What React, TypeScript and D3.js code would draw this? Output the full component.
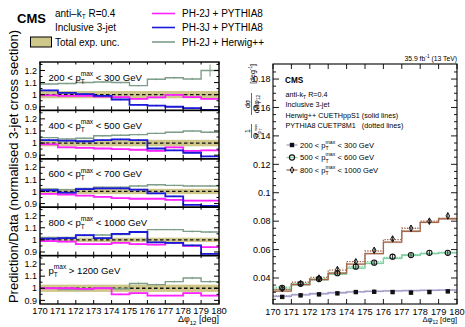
import React, { useEffect, useRef } from "react";
import * as d3 from "d3";

const FONT = "'Liberation Sans', Arial, Helvetica, sans-serif";

// ---------- data ----------
const binEdges = [170, 171, 172, 173, 174, 175, 176, 177, 178, 179, 180];
const xTickValues = [170, 171, 172, 173, 174, 175, 176, 177, 178, 179, 180];

const panelPre = ["200 < ", "400 < ", "600 < ", "800 < ", ""];
const panelPost = [" < 300 GeV", " < 500 GeV", " < 700 GeV", " < 1000 GeV", " > 1200 GeV"];

// PH-2J + Herwig++ (ratio)
const ph2jHerwig = [
  [1.088, 1.092, 1.1, 1.105, 1.1, 1.075, 1.128, 1.14, 1.13, 1.2],
  [1.045, 1.035, 1.04, 1.06, 1.065, 1.07, 1.08, 1.09, 1.1, 1.09],
  [1.02, 1.015, 1.025, 1.035, 1.035, 1.045, 1.055, 1.05, 1.045, 1.045],
  [1.02, 1.02, 1.035, 1.04, 1.045, 1.065, 1.085, 1.085, 1.07, 1.065],
  [1.0, 0.99, 0.99, 1.005, 0.995, 1.04, 1.03, 1.055, 1.085, 1.055],
];
const ph2jHerwigErr = [
  [0.006, 0.006, 0.006, 0.006, 0.006, 0.006, 0.008, 0.008, 0.01, 0.05],
  [0.006, 0.006, 0.006, 0.006, 0.006, 0.006, 0.006, 0.006, 0.008, 0.008],
  [0.006, 0.006, 0.006, 0.006, 0.006, 0.006, 0.006, 0.006, 0.008, 0.008],
  [0.006, 0.006, 0.006, 0.006, 0.006, 0.006, 0.006, 0.006, 0.008, 0.008],
  [0.008, 0.008, 0.008, 0.008, 0.008, 0.008, 0.008, 0.008, 0.01, 0.01],
];
// PH-3J + PYTHIA8 (ratio); last panel has none
const ph3jPythia: (number[] | null)[] = [
  [1.035, 1.015, 1.005, 0.99, 0.96, 0.915, 0.91, 0.9, 0.888, 0.874],
  [1.025, 1.02, 1.015, 1.025, 1.03, 1.025, 0.955, 0.94, 0.92, 0.89],
  [1.01, 0.99, 1.02, 1.025, 1.025, 1.015, 0.985, 0.96, 0.89, 0.88],
  [1.01, 1.015, 1.04, 1.015, 1.05, 1.065, 0.98, 0.975, 0.955, 0.885],
  null,
];
// PH-2J + PYTHIA8 (ratio)
const ph2jPythia = [
  [0.995, 0.99, 0.99, 0.985, 0.98, 0.965, 0.978, 0.998, 0.98, 0.965],
  [0.99, 0.965, 0.96, 0.955, 0.95, 0.945, 0.935, 0.965, 0.935, 0.94],
  [0.98, 0.975, 0.965, 0.955, 0.945, 0.94, 0.94, 0.93, 0.925, 0.925],
  [0.99, 0.985, 0.965, 0.965, 0.975, 0.965, 0.96, 0.975, 0.95, 0.94],
  [1.0, 1.0, 0.995, 1.0, 0.95, 0.96, 0.94, 0.94, 0.96, 0.94],
];
// total experimental uncertainty (half width)
const expUnc = [0.03, 0.027, 0.022, 0.018, 0.03];

const leftYTicks = [0.9, 1.0, 1.1, 1.2];
const leftYMinor = [0.95, 1.05, 1.15, 1.25];

// Right panel: normalised cross sections
const seriesLabelsPre = ["200 < ", "500 < ", "800 < "];
const seriesLabelsPost = [" < 300 GeV", " < 600 GeV", " < 1000 GeV"];
const dataPts = [
  [0.0267, 0.0278, 0.0285, 0.0292, 0.0301, 0.0303, 0.0301, 0.0297, 0.0301, 0.0306],
  [0.0331, 0.0359, 0.0393, 0.0434, 0.048, 0.0508, 0.055, 0.0561, 0.0577, 0.0577],
  [0.0325, 0.0362, 0.04, 0.046, 0.0515, 0.0595, 0.0675, 0.075, 0.08, 0.0837],
];
const herwigNorm = [
  [0.027, 0.0281, 0.0289, 0.0296, 0.0302, 0.0306, 0.0309, 0.0311, 0.0313, 0.0315],
  [0.032, 0.0354, 0.0389, 0.0428, 0.0469, 0.0503, 0.0538, 0.056, 0.0572, 0.0577],
  [0.0308, 0.0354, 0.0389, 0.0434, 0.0497, 0.0572, 0.0652, 0.0729, 0.0792, 0.0817],
];
const pythiaNorm = [
  [0.0275, 0.0285, 0.0292, 0.0298, 0.0304, 0.0308, 0.031, 0.0312, 0.0314, 0.0316],
  [0.0335, 0.036, 0.0395, 0.0435, 0.048, 0.0515, 0.0545, 0.0565, 0.0575, 0.058],
  [0.032, 0.037, 0.0405, 0.0455, 0.0515, 0.059, 0.067, 0.075, 0.08, 0.082],
];
const rightYTicks = [0.04, 0.06, 0.08, 0.1, 0.12, 0.14, 0.16, 0.18];
const rightYTickLabels = ["0.04", "0.06", "0.08", "0.1", "0.12", "0.14", "0.16", "0.18"];

const seriesColors = ["#a29ec9", "#7fd0a2", "#a3684c"];
const markerTypes = ["square", "circle", "diamond"];

type Sel = d3.Selection<any, any, any, any>;

function ptLabel(g: Sel, x: number, y: number, fs: number, pre: string, post: string, anchor = "start") {
  const t = g
    .append("text")
    .attr("x", x)
    .attr("y", y)
    .attr("font-size", fs)
    .attr("font-family", FONT)
    .attr("text-anchor", anchor)
    .style("white-space", "pre");
  t.append("tspan").text(pre + "p");
  const sup = t.append("tspan").attr("font-size", fs * 0.68).attr("dy", -fs * 0.48).text("max");
  const wSup = (sup.node() as SVGTextContentElement).getComputedTextLength();
  const sub = t
    .append("tspan")
    .attr("font-size", fs * 0.68)
    .attr("dx", -wSup)
    .attr("dy", fs * 0.48 + fs * 0.32)
    .text("T");
  const wSub = (sub.node() as SVGTextContentElement).getComputedTextLength();
  t.append("tspan").attr("dx", wSup - wSub).attr("dy", -fs * 0.32).text(post);
  return t;
}

function stepPoints(vals: number[]) {
  const pts: [number, number][] = [];
  vals.forEach((v, i) => {
    pts.push([binEdges[i], v]);
    pts.push([binEdges[i + 1], v]);
  });
  return pts;
}

export default function App() {
  const ref = useRef<SVGSVGElement>(null);
  useEffect(() => {
    const svg = d3.select(ref.current);
    svg.selectAll("*").remove();
    const defs = svg.append("defs");

    // ---------------- LEFT ----------------
    const L = { x0: 40, x1: 219, top: 62, ph: 48.4 };
    const x = d3.scaleLinear().domain([170, 180]).range([L.x0, L.x1]);
    const colHw = "#7f9e8a";
    const col3J = "#1a1ad8";
    const col2J = "#ff22ff";

    for (let p = 0; p < 5; p++) {
      const top = L.top + p * L.ph;
      const bottom = top + L.ph;
      const y = d3.scaleLinear().domain([0.87, 1.27]).range([bottom, top]);
      const clipId = "clipL" + p;
      defs
        .append("clipPath")
        .attr("id", clipId)
        .append("rect")
        .attr("x", L.x0)
        .attr("y", top)
        .attr("width", L.x1 - L.x0)
        .attr("height", L.ph);
      const g = svg.append("g").attr("clip-path", `url(#${clipId})`);
      // uncertainty band
      g.append("rect")
        .attr("x", x(170))
        .attr("width", x(180) - x(170))
        .attr("y", y(1 + expUnc[p]))
        .attr("height", y(1 - expUnc[p]) - y(1 + expUnc[p]))
        .attr("fill", "#cfc88a");
      g.append("line")
        .attr("x1", x(170))
        .attr("x2", x(180))
        .attr("y1", y(1))
        .attr("y2", y(1))
        .attr("stroke", "#111")
        .attr("stroke-width", 1.3)
        .attr("stroke-dasharray", "3.5,2.5");

      const line = d3
        .line<[number, number]>()
        .x((d) => x(d[0]))
        .y((d) => y(d[1]));
      const drawSeries = (vals: number[], col: string, w: number, errs: number[] | null, bandW: number) => {
        // light MC band
        vals.forEach((v, i) => {
          g.append("rect")
            .attr("x", x(binEdges[i]))
            .attr("width", x(binEdges[i + 1]) - x(binEdges[i]))
            .attr("y", y(v + bandW))
            .attr("height", y(v - bandW) - y(v + bandW))
            .attr("fill", col)
            .attr("opacity", 0.22);
        });
        g.append("path")
          .attr("d", line(stepPoints(vals)))
          .attr("fill", "none")
          .attr("stroke", col)
          .attr("stroke-width", w);
        vals.forEach((v, i) => {
          const e = errs ? errs[i] : 0.006;
          const cx = x((binEdges[i] + binEdges[i + 1]) / 2);
          g.append("line")
            .attr("x1", cx)
            .attr("x2", cx)
            .attr("y1", y(v - e))
            .attr("y2", y(v + e))
            .attr("stroke", col)
            .attr("stroke-width", 1);
        });
      };
      drawSeries(ph2jHerwig[p], colHw, 1.4, ph2jHerwigErr[p], 0.004);
      drawSeries(ph2jPythia[p], col2J, 1.8, null, 0.006);
      const s3 = ph3jPythia[p];
      if (s3) drawSeries(s3, col3J, 1.8, null, 0.006);

      // frame
      svg
        .append("rect")
        .attr("x", L.x0)
        .attr("y", top)
        .attr("width", L.x1 - L.x0)
        .attr("height", L.ph)
        .attr("fill", "none")
        .attr("stroke", "#000")
        .attr("stroke-width", 1.4);
      // x ticks
      xTickValues.forEach((t) => {
        svg
          .append("line")
          .attr("x1", x(t))
          .attr("x2", x(t))
          .attr("y1", bottom)
          .attr("y2", bottom - 4)
          .attr("stroke", "#000")
          .attr("stroke-width", 1);
        svg
          .append("line")
          .attr("x1", x(t))
          .attr("x2", x(t))
          .attr("y1", top)
          .attr("y2", top + 2.5)
          .attr("stroke", "#000")
          .attr("stroke-width", 1);
      });
      // y ticks
      leftYTicks.forEach((t) => {
        [
          [L.x0, 5],
          [L.x1, -5],
        ].forEach(([xx, len]) => {
          svg
            .append("line")
            .attr("x1", xx)
            .attr("x2", xx + len)
            .attr("y1", y(t))
            .attr("y2", y(t))
            .attr("stroke", "#000")
            .attr("stroke-width", 1);
        });
        svg
          .append("text")
          .attr("x", L.x0 - 3)
          .attr("y", y(t) + 3.2)
          .attr("text-anchor", "end")
          .attr("font-size", 9)
          .attr("font-family", FONT)
          .text(t === 1 ? "1" : d3.format(".1f")(t));
      });
      leftYMinor.forEach((t) => {
        if (y(t) < top + 1) return;
        [
          [L.x0, 2.5],
          [L.x1, -2.5],
        ].forEach(([xx, len]) => {
          svg
            .append("line")
            .attr("x1", xx)
            .attr("x2", xx + len)
            .attr("y1", y(t))
            .attr("y2", y(t))
            .attr("stroke", "#000")
            .attr("stroke-width", 1);
        });
      });
      ptLabel(svg, 48.5, top + 18.5, 9.6, panelPre[p], panelPost[p]);
    }
    // x tick labels
    const lBottom = L.top + 5 * L.ph;
    xTickValues.forEach((t) => {
      svg
        .append("text")
        .attr("x", x(t))
        .attr("y", lBottom + 9.5)
        .attr("text-anchor", "middle")
        .attr("font-size", 9.4)
        .attr("font-family", FONT)
        .text(String(t));
    });
    // x title
    {
      const t = svg
        .append("text")
        .attr("x", L.x1)
        .attr("y", 322)
        .attr("text-anchor", "end")
        .attr("font-size", 9)
        .attr("font-family", FONT)
        .style("white-space", "pre");
      t.append("tspan").text("Δφ");
      t.append("tspan").attr("font-size", 6).attr("dy", 2.5).text("12");
      t.append("tspan").attr("dy", -2.5).text(" [deg]");
    }
    // y title
    svg
      .append("text")
      .attr("transform", "translate(17.5,166.5) rotate(-90)")
      .attr("text-anchor", "middle")
      .attr("font-size", 13)
      .attr("font-family", FONT)
      .text("Prediction/Data (normalised 3-jet cross section)");

    // top legend
    svg
      .append("text")
      .attr("x", 17)
      .attr("y", 23)
      .attr("font-size", 13)
      .attr("font-weight", "bold")
      .attr("font-family", FONT)
      .text("CMS");
    {
      const t = svg
        .append("text")
        .attr("x", 55)
        .attr("y", 16.5)
        .attr("font-size", 10)
        .attr("font-family", FONT)
        .style("white-space", "pre");
      t.append("tspan").text("anti–k");
      t.append("tspan").attr("font-size", 6.5).attr("dy", 2.5).text("T");
      t.append("tspan").attr("dy", -2.5).text(" R=0.4");
    }
    svg
      .append("text")
      .attr("x", 55)
      .attr("y", 30.5)
      .attr("font-size", 10)
      .attr("font-family", FONT)
      .text("Inclusive 3-jet");
    svg
      .append("rect")
      .attr("x", 30.5)
      .attr("y", 37)
      .attr("width", 21)
      .attr("height", 10)
      .attr("fill", "#cfc88a")
      .attr("stroke", "#000")
      .attr("stroke-width", 1);
    svg
      .append("text")
      .attr("x", 55)
      .attr("y", 45.5)
      .attr("font-size", 10)
      .attr("font-family", FONT)
      .text("Total exp. unc.");
    const legLines: [string, string, number][] = [
      [col2J, "PH-2J + PYTHIA8", 13.5],
      [col3J, "PH-3J + PYTHIA8", 27.5],
      [colHw, "PH-2J + Herwig++", 42],
    ];
    legLines.forEach(([c, lab, yy]) => {
      svg
        .append("line")
        .attr("x1", 152)
        .attr("x2", 175)
        .attr("y1", yy)
        .attr("y2", yy)
        .attr("stroke", c)
        .attr("stroke-width", 1.6);
      svg
        .append("text")
        .attr("x", 182)
        .attr("y", yy + 3.5)
        .attr("font-size", 10)
        .attr("font-family", FONT)
        .text(lab);
    });

    // ---------------- RIGHT ----------------
    const R = { x0: 273, x1: 457, y0: 64, y1: 304 };
    const xr = d3.scaleLinear().domain([170, 180]).range([R.x0, R.x1]);
    const yr = d3.scaleLinear().domain([0.0217, 0.1906]).range([R.y1, R.y0]);
    defs
      .append("clipPath")
      .attr("id", "clipR")
      .append("rect")
      .attr("x", R.x0)
      .attr("y", R.y0)
      .attr("width", R.x1 - R.x0)
      .attr("height", R.y1 - R.y0);
    const gr = svg.append("g").attr("clip-path", "url(#clipR)");
    const liner = d3
      .line<[number, number]>()
      .x((d) => xr(d[0]))
      .y((d) => yr(d[1]));
    for (let s = 0; s < 3; s++) {
      const col = seriesColors[s];
      // band
      herwigNorm[s].forEach((v, i) => {
        gr.append("rect")
          .attr("x", xr(binEdges[i]))
          .attr("width", xr(binEdges[i + 1]) - xr(binEdges[i]))
          .attr("y", yr(v + 0.0008))
          .attr("height", yr(v - 0.0008) - yr(v + 0.0008))
          .attr("fill", col)
          .attr("opacity", 0.25);
      });
      gr.append("path")
        .attr("d", liner(stepPoints(herwigNorm[s])))
        .attr("fill", "none")
        .attr("stroke", col)
        .attr("stroke-width", 1.3);
      gr.append("path")
        .attr("d", liner(stepPoints(pythiaNorm[s])))
        .attr("fill", "none")
        .attr("stroke", col)
        .attr("stroke-width", 1.3)
        .attr("stroke-dasharray", "1.3,1.3");
    }
    const drawMarker = (g: Sel, type: string, cx: number, cy: number) => {
      if (type === "square") {
        g.append("rect")
          .attr("x", cx - 2.2)
          .attr("y", cy - 2.2)
          .attr("width", 4.4)
          .attr("height", 4.4)
          .attr("fill", "#111");
      } else if (type === "circle") {
        g.append("circle")
          .attr("cx", cx)
          .attr("cy", cy)
          .attr("r", 2.6)
          .attr("fill", "none")
          .attr("stroke", "#111")
          .attr("stroke-width", 1.1);
      } else {
        g.append("path")
          .attr("d", `M${cx},${cy - 3.2}L${cx + 1.8},${cy}L${cx},${cy + 3.2}L${cx - 1.8},${cy}Z`)
          .attr("fill", "none")
          .attr("stroke", "#111")
          .attr("stroke-width", 1);
      }
    };
    for (let s = 0; s < 3; s++) {
      dataPts[s].forEach((v, i) => {
        const cx = xr((binEdges[i] + binEdges[i + 1]) / 2);
        const e = 0.0008 + v * 0.02;
        gr.append("line")
          .attr("x1", cx)
          .attr("x2", cx)
          .attr("y1", yr(v - e))
          .attr("y2", yr(v + e))
          .attr("stroke", "#111")
          .attr("stroke-width", 0.9);
        drawMarker(gr, markerTypes[s], cx, yr(v));
      });
    }
    svg
      .append("rect")
      .attr("x", R.x0)
      .attr("y", R.y0)
      .attr("width", R.x1 - R.x0)
      .attr("height", R.y1 - R.y0)
      .attr("fill", "none")
      .attr("stroke", "#000")
      .attr("stroke-width", 1.1);
    xTickValues.forEach((t) => {
      [
        [R.y1, -5],
        [R.y0, 5],
      ].forEach(([yy, len]) => {
        svg
          .append("line")
          .attr("x1", xr(t))
          .attr("x2", xr(t))
          .attr("y1", yy)
          .attr("y2", yy + len)
          .attr("stroke", "#000")
          .attr("stroke-width", 0.9);
      });
      svg
        .append("text")
        .attr("x", xr(t))
        .attr("y", R.y1 + 10.5)
        .attr("text-anchor", "middle")
        .attr("font-size", 9.2)
        .attr("font-family", FONT)
        .text(String(t));
    });
    const yMinor = d3.range(0.025, 0.19, 0.005);
    yMinor.forEach((t) => {
      const major = rightYTicks.some((m) => Math.abs(m - t) < 1e-6);
      const len = major ? 6 : 3;
      [
        [R.x0, len],
        [R.x1, -len],
      ].forEach(([xx, l]) => {
        svg
          .append("line")
          .attr("x1", xx)
          .attr("x2", xx + l)
          .attr("y1", yr(t))
          .attr("y2", yr(t))
          .attr("stroke", "#000")
          .attr("stroke-width", 0.9);
      });
    });
    rightYTicks.forEach((t, i) => {
      svg
        .append("text")
        .attr("x", R.x0 - 2.5)
        .attr("y", yr(t) + 3.2)
        .attr("text-anchor", "end")
        .attr("font-size", 9)
        .attr("font-family", FONT)
        .text(rightYTickLabels[i]);
    });
    {
      const t = svg
        .append("text")
        .attr("x", R.x1)
        .attr("y", 322)
        .attr("text-anchor", "end")
        .attr("font-size", 7.6)
        .attr("font-family", FONT)
        .style("white-space", "pre");
      t.append("tspan").text("Δφ");
      t.append("tspan").attr("font-size", 5).attr("dy", 2).text("12");
      t.append("tspan").attr("dy", -2).text(" [deg]");
    }
    {
      const t = svg
        .append("text")
        .attr("x", R.x1)
        .attr("y", 60.5)
        .attr("text-anchor", "end")
        .attr("font-size", 6.8)
        .attr("font-family", FONT)
        .style("white-space", "pre");
      t.append("tspan").text("35.9 fb");
      t.append("tspan").attr("font-size", 4.8).attr("dy", -2.5).text("-1");
      t.append("tspan").attr("dy", 2.5).text(" (13 TeV)");
    }
    // right y title (rotated)
    {
      const g = svg.append("g").attr("transform", "translate(251.5,0) rotate(-90)");
      const fs = 7;
      const frac = (cx: number, num: (t: Sel) => void, den: (t: Sel) => void, w: number) => {
        const tn = g.append("text").attr("x", cx).attr("y", -1.8).attr("text-anchor", "middle").attr("font-size", fs).attr("font-family", FONT).style("white-space", "pre");
        num(tn);
        const td = g.append("text").attr("x", cx).attr("y", 7).attr("text-anchor", "middle").attr("font-size", fs).attr("font-family", FONT).style("white-space", "pre");
        den(td);
        g.append("line").attr("x1", cx - w / 2).attr("x2", cx + w / 2).attr("y1", 0).attr("y2", 0).attr("stroke", "#000").attr("stroke-width", 0.6);
      };
      frac(
        -131,
        (t) => t.append("tspan").text("1"),
        (t) => {
          t.append("tspan").text("σ");
          t.append("tspan").attr("font-size", 4.5).attr("dy", 2).text("p");
          t.append("tspan").attr("font-size", 3.5).attr("dy", -3.5).text("max");
          t.append("tspan").attr("font-size", 3.5).attr("dx", -6).attr("dy", 5).text("T");
        },
        14
      );
      frac(
        -104,
        (t) => t.append("tspan").text("dσ"),
        (t) => {
          t.append("tspan").text("dΔφ");
          t.append("tspan").attr("font-size", 4.8).attr("dy", 1.8).text("12");
        },
        22
      );
      const tt = g.append("text").attr("x", -64).attr("y", 3).attr("text-anchor", "end").attr("font-size", fs).attr("font-family", FONT).style("white-space", "pre");
      tt.append("tspan").text("[deg");
      tt.append("tspan").attr("font-size", 4.8).attr("dy", -3).text("-1");
      tt.append("tspan").attr("dy", 3).text("]");
    }
    // right inner text
    svg.append("text").attr("x", 285).attr("y", 83).attr("font-size", 8.2).attr("font-weight", "bold").attr("font-family", FONT).text("CMS");
    {
      const t = svg.append("text").attr("x", 285.5).attr("y", 97).attr("font-size", 7.2).attr("font-family", FONT).style("white-space", "pre");
      t.append("tspan").text("anti-k");
      t.append("tspan").attr("font-size", 5).attr("dy", 1.8).text("T");
      t.append("tspan").attr("dy", -1.8).text(" R=0.4");
    }
    svg.append("text").attr("x", 285.5).attr("y", 107.3).attr("font-size", 7.2).attr("font-family", FONT).text("Inclusive 3-jet");
    svg.append("text").attr("x", 285.5).attr("y", 117.6).attr("font-size", 7.2).attr("font-family", FONT).text("Herwig++ CUETHppS1 (solid lines)");
    svg.append("text").attr("x", 285.5).attr("y", 128).attr("font-size", 7.2).attr("font-family", FONT).style("white-space", "pre").text("PYTHIA8 CUETP8M1   (dotted lines)");
    const legY = [145, 157.5, 170];
    for (let s = 0; s < 3; s++) {
      svg
        .append("line")
        .attr("x1", 286.5)
        .attr("x2", 297.5)
        .attr("y1", legY[s])
        .attr("y2", legY[s])
        .attr("stroke", seriesColors[s])
        .attr("stroke-width", 1.3);
      drawMarker(svg, markerTypes[s], 292, legY[s]);
      ptLabel(svg, 300, legY[s] + 2.6, 7.6, seriesLabelsPre[s], seriesLabelsPost[s]);
    }
  }, []);
  return (
    <svg
      ref={ref}
      width={465}
      height={327}
      style={{ position: "absolute", left: 0, top: 0, background: "#fff" }}
    />
  );
}
